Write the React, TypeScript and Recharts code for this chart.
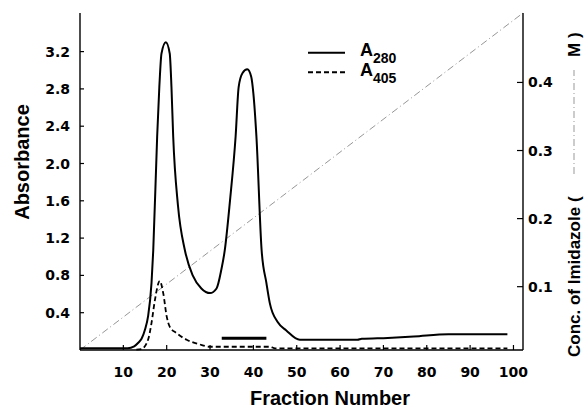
import { ComposedChart, Line, XAxis, YAxis, Legend } from "recharts"

// fraction number ticks / absorbance ticks / imidazole ticks
const fractionTicks = [10, 20, 30, 40, 50, 60, 70, 80, 90, 100]
const absTicks = [0.4, 0.8, 1.2, 1.6, 2.0, 2.4, 2.8, 3.2]
const concTicks = [0.1, 0.2, 0.3, 0.4]

// [fraction, absorbance]
const a280Raw = [
  [0, 0.02], [6, 0.02], [11, 0.02], [12.5, 0.04], [13.5, 0.08], [14.2, 0.12], [15, 0.22],
  [15.7, 0.36], [16.5, 0.72], [16.9, 1.07], [17.8, 2.29], [18.3, 2.82], [18.8, 3.18],
  [19.8, 3.3], [20.7, 3.18], [21.1, 2.82], [21.5, 2.29], [22.6, 1.55], [24.2, 1.07],
  [26, 0.8], [28, 0.66], [30, 0.61], [31.5, 0.66], [32.6, 0.86], [33.4, 1.07], [34.6, 1.6],
  [35.9, 2.29], [36.6, 2.82], [37.5, 2.97], [38.6, 3.01], [39.5, 2.93], [40, 2.75],
  [40.7, 2.29], [41.9, 1.07], [43, 0.72], [43.8, 0.5], [45.6, 0.3], [47.6, 0.21],
  [50.7, 0.11], [64, 0.11], [65, 0.12], [71, 0.13], [77, 0.145], [85, 0.17], [98.6, 0.17],
]

const a405Raw = [
  [13, 0.005], [14.2, 0.01], [15.7, 0.11], [16.5, 0.29], [17.3, 0.54], [18.4, 0.74],
  [19.2, 0.61], [20, 0.36], [20.7, 0.25], [22.3, 0.18], [24.6, 0.11], [27.6, 0.06],
  [30, 0.035], [43.8, 0.035], [45, 0.018], [98.6, 0.018],
]

// [fraction, M imidazole] - linear gradient, right axis
const imidazoleRaw = [[0, 0.007], [102.2, 0.502]]

// pooled fractions marker
const poolRaw = [[32.7, 0.125], [43, 0.125]]

const toPoints = (arr: number[][]) => arr.map(([fraction, value]) => ({ fraction, value }))

const a280 = toPoints(a280Raw)
const a405 = toPoints(a405Raw)
const imidazole = toPoints(imidazoleRaw)
const pool = toPoints(poolRaw)

const SANS = "'Liberation Sans', Arial, Helvetica, sans-serif"
const TICK_FONT = "'DejaVu Sans', sans-serif"

const LeftTick = ({ x, y, payload }: any) => (
  <text x={x} y={y} dy="0.36em" textAnchor="end" fontFamily={TICK_FONT} fontWeight="bold" fontSize={14} fill="#000">
    {payload.value.toFixed(1)}
  </text>
)

const RightTick = ({ x, y, payload }: any) => (
  <text x={x} y={y} dy="0.36em" textAnchor="start" fontFamily={TICK_FONT} fontWeight="bold" fontSize={14} fill="#000">
    {payload.value.toFixed(1)}
  </text>
)

const BottomTick = ({ x, y, payload }: any) => (
  <text x={x} y={y} dy="0.73em" textAnchor="middle" fontFamily={TICK_FONT} fontWeight="bold" fontSize={14} fill="#000">
    {payload.value}
  </text>
)

const AbsLabel = () => (
  <text x={28.5} y={162} transform="rotate(-90 28.5 162)" textAnchor="middle" fontFamily={SANS} fontWeight="bold" fontSize={20} fill="#000">
    Absorbance
  </text>
)

const FractionLabel = () => (
  <text x={330} y={405} textAnchor="middle" fontFamily={SANS} fontWeight="bold" fontSize={20} fill="#000">
    Fraction Number
  </text>
)

// right title has the dash-dot line sample inside the brackets
const ConcLabel = () => (
  <g transform="translate(580 357) rotate(-90)" fontFamily={SANS} fontWeight="bold" fontSize={17} fill="#000">
    <text x={0} y={0}>Conc. of Imidazole (</text>
    <line x1={183} y1={-6} x2={287} y2={-6} stroke="#999" strokeWidth={1} strokeDasharray="7 3 1 3" />
    <text x={300} y={0}>M )</text>
  </g>
)

const LegendBox = ({ payload }: any) => {
  const items = (payload || []).filter((p: any) => p.type !== "none")
  return (
    <svg width={110} height={48} style={{ display: "block" }}>
      {items.map((item: any, i: number) => {
        const name: string = item.value
        const ly = 12.7 + i * 19.6
        return (
          <g key={name}>
            <line
              x1={8}
              y1={ly}
              x2={45}
              y2={ly}
              stroke="#000"
              strokeWidth={2}
              strokeDasharray={item.payload?.strokeDasharray}
            />
            <text x={60} y={ly + 3.5} fontFamily={SANS} fontWeight="bold" fontSize={18} fill="#000">
              {name.slice(0, 1)}
              <tspan dy={7} fontSize={14}>{name.slice(1)}</tspan>
            </text>
          </g>
        )
      })}
    </svg>
  )
}

export default function App() {
  return (
    <div style={{ position: "absolute", left: 0, top: 0, width: 587, height: 414, background: "#fff" }}>
      <ComposedChart width={587} height={414} margin={{ top: 13, right: 24, bottom: 24, left: 20 }}>
        <XAxis
          xAxisId="top"
          orientation="top"
          type="number"
          dataKey="fraction"
          domain={[0, 102.2]}
          height={0}
          tick={false}
          tickLine={false}
          axisLine={{ stroke: "#000", strokeWidth: 1.4 }}
        />
        <XAxis
          type="number"
          dataKey="fraction"
          domain={[0, 102.2]}
          ticks={fractionTicks}
          height={40}
          tickSize={-5}
          tickMargin={22}
          tick={<BottomTick />}
          tickLine={{ stroke: "#000", strokeWidth: 1.2 }}
          axisLine={{ stroke: "#000", strokeWidth: 1.4 }}
          label={<FractionLabel />}
        />
        <YAxis
          yAxisId="left"
          type="number"
          domain={[0, 3.614]}
          ticks={absTicks}
          width={60}
          tickSize={-4}
          tickMargin={14}
          tick={<LeftTick />}
          tickLine={{ stroke: "#000", strokeWidth: 1.2 }}
          axisLine={{ stroke: "#000", strokeWidth: 1.4 }}
          label={<AbsLabel />}
        />
        <YAxis
          yAxisId="right"
          orientation="right"
          type="number"
          domain={[0.007, 0.502]}
          ticks={concTicks}
          width={40}
          tickSize={-6}
          tickMargin={11}
          tick={<RightTick />}
          tickLine={{ stroke: "#000", strokeWidth: 1.2 }}
          axisLine={{ stroke: "#000", strokeWidth: 1.4 }}
          label={<ConcLabel />}
        />
        <Legend
          layout="horizontal"
          verticalAlign="middle"
          align="center"
          content={<LegendBox />}
          wrapperStyle={{ left: 300, top: 40, width: 110, height: 48 }}
        />
        <Line
          yAxisId="right"
          data={imidazole}
          dataKey="value"
          type="linear"
          stroke="#8a8a8a"
          strokeWidth={0.9}
          strokeDasharray="7 3 1 3"
          dot={false}
          legendType="none"
          isAnimationActive={false}
        />
        <Line
          yAxisId="left"
          name="A405"
          data={a405}
          dataKey="value"
          type="monotone"
          stroke="#000"
          strokeWidth={1.8}
          strokeDasharray="5 3"
          dot={false}
          isAnimationActive={false}
        />
        <Line
          yAxisId="left"
          name="A280"
          data={a280}
          dataKey="value"
          type="monotone"
          stroke="#000"
          strokeWidth={2}
          dot={false}
          isAnimationActive={false}
        />
        <Line
          yAxisId="left"
          data={pool}
          dataKey="value"
          type="linear"
          stroke="#000"
          strokeWidth={3}
          dot={false}
          legendType="none"
          isAnimationActive={false}
        />
      </ComposedChart>
    </div>
  )
}
